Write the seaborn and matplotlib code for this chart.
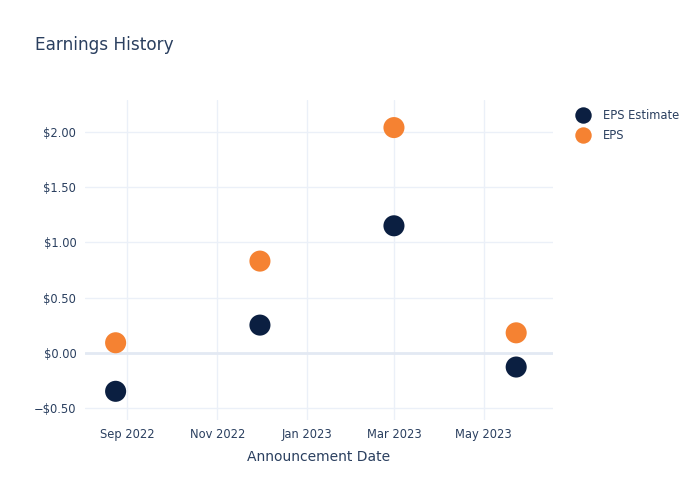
import matplotlib
matplotlib.use("Agg")
import matplotlib.pyplot as plt
import matplotlib.dates as mdates
from matplotlib.ticker import FuncFormatter
import seaborn as sns
import pandas as pd

dates = ["2022-08-24", "2022-11-30", "2023-03-01", "2023-05-23"]
eps_estimate = [-0.35, 0.25, 1.15, -0.13]
eps_actual = [0.09, 0.83, 2.04, 0.18]
series_names = ["EPS Estimate", "EPS"]
colors = ["#0b1f41", "#f58232"]

df = pd.DataFrame({
    "Announcement Date": pd.to_datetime(dates * 2),
    "value": eps_estimate + eps_actual,
    "series": [series_names[0]] * len(dates) + [series_names[1]] * len(dates),
})

sns.set_theme(style="white")
plt.rcParams["font.family"] = ["DejaVu Sans"]
text_color = "#2a3f5f"

fig = plt.figure(figsize=(7, 5), dpi=100)
ax = fig.add_axes([0.121, 0.16, 0.669, 0.64])

sns.scatterplot(data=df, x="Announcement Date", y="value", hue="series",
                hue_order=series_names, palette=colors, s=230, linewidth=0,
                ax=ax, zorder=3, legend=True)

ax.set_xlim(pd.Timestamp("2022-08-03"), pd.Timestamp("2023-06-17"))
ax.set_ylim(-0.61, 2.29)
ax.set_yticks([-0.5, 0, 0.5, 1.0, 1.5, 2.0])
ax.yaxis.set_major_formatter(FuncFormatter(
    lambda v, p: ("\u2212$%.2f" % abs(v)) if v < 0 else "$%.2f" % v))
ax.set_xticks(pd.to_datetime(["2022-09-01", "2022-11-01", "2023-01-01", "2023-03-01", "2023-05-01"]))
ax.xaxis.set_major_formatter(mdates.DateFormatter("%b %Y"))

ax.grid(True, color="#ebf0f8", linewidth=1, zorder=0)
ax.axhline(0, color="#e3e9f3", linewidth=2, zorder=1)
for s in ax.spines.values():
    s.set_visible(False)
ax.tick_params(axis="both", length=0, labelsize=8.3, colors=text_color, pad=6)
ax.set_xlabel("Announcement Date", fontsize=10, color=text_color, labelpad=6)
ax.set_ylabel("")

leg = ax.legend(loc="upper left", bbox_to_anchor=(1.03, 0.985), frameon=False,
                fontsize=8.3, handletextpad=0.75, labelspacing=0.55,
                borderaxespad=0, markerscale=0.78)
for t in leg.get_texts():
    t.set_color(text_color)

fig.text(0.05, 0.91, "Earnings History", fontsize=12.2, color=text_color, va="center")

fig.savefig("out.png", dpi=100)
